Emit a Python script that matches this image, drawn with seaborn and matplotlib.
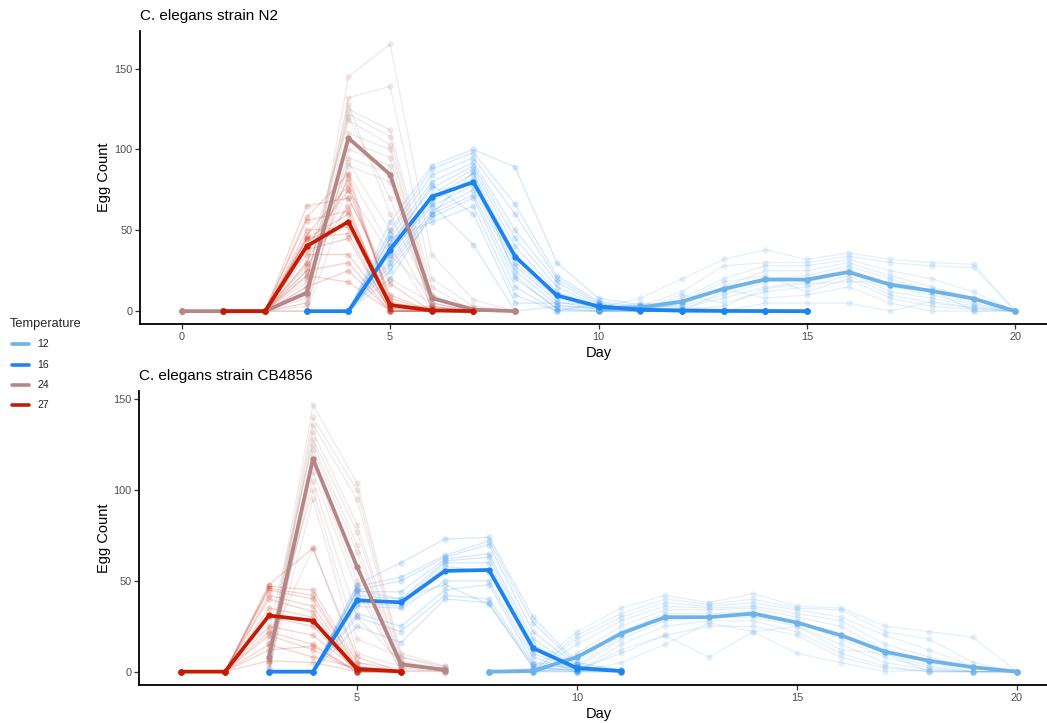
import matplotlib
matplotlib.use("Agg")
import matplotlib.pyplot as plt
import numpy as np
import pandas as pd
import seaborn as sns
from matplotlib.lines import Line2D

sns.set_theme(style="ticks")
plt.rcParams['font.family'] = ['Liberation Sans', 'DejaVu Sans']

temps = ["12", "16", "24", "27"]
colors = {"12": "#6DB2E8", "16": "#1C84F0", "24": "#B68686", "27": "#C41B05"}

# ---------------- N2 (top panel) ----------------
# each list entry = egg counts of the individual worms on that day
n2_27_days = [1, 2, 3, 4, 5, 6, 7]
n2_27_counts = [
    [0, 0, 0, 0, 0, 0, 0, 0, 0, 0, 0, 0, 0, 0, 0, 0],
    [0, 0, 0, 0, 0, 0, 0, 0, 0, 0, 0, 0, 0, 0, 0, 0],
    [65, 58, 56, 47, 45, 44, 40, 38, 35, 30, 28, 25, 22, 45, 50, 15],
    [70, 85, 62, 78, 48, 55, 75, 45, 35, 82, 65, 30, 18, 60, 52, 25],
    [17, 5, 2, 8, 0, 3, 10, 0, 2, 4, 1, 0, 0, 6, 3, 0],
    [0, 0, 1, 0, 0, 2, 0, 0, 0, 1, 0, 0, 0, 0, 3, 0],
    [0, 0, 0, 0, 0, 0, 0, 0, 0, 0, 0, 0, 0, 0, 0, 0],
]
n2_24_days = [0, 1, 2, 3, 4, 5, 6, 7, 8]
n2_24_counts = [
    [0, 0, 0, 0, 0, 0, 0, 0, 0, 0, 0, 0, 0, 0, 0, 0],
    [0, 0, 0, 0, 0, 0, 0, 0, 0, 0, 0, 0, 0, 0, 0, 0],
    [0, 0, 0, 0, 0, 0, 0, 0, 0, 0, 0, 0, 0, 0, 0, 0],
    [0, 5, 10, 20, 30, 15, 8, 0, 12, 25, 5, 18, 3, 10, 22, 0],
    [145, 132, 125, 122, 118, 110, 105, 100, 95, 90, 120, 128, 92, 85, 75, 70],
    [165, 139, 112, 108, 103, 100, 95, 90, 85, 80, 70, 60, 50, 40, 35, 20],
    [35, 20, 15, 10, 8, 5, 3, 2, 0, 0, 5, 8, 3, 0, 10, 5],
    [7, 3, 0, 0, 2, 0, 0, 1, 0, 0, 0, 2, 0, 0, 0, 0],
    [0, 0, 0, 0, 0, 0, 0, 0, 0, 0, 0, 0, 0, 0, 0, 0],
]
n2_16_days = [3, 4, 5, 6, 7, 8, 9, 10, 11, 12, 13, 14, 15]
n2_16_counts = [
    [0, 0, 0, 0, 0, 0, 0, 0, 0, 0, 0, 0, 0, 0, 0, 0],
    [0, 0, 0, 0, 0, 0, 0, 0, 0, 0, 0, 0, 0, 0, 0, 0],
    [55, 50, 48, 45, 42, 40, 38, 35, 32, 30, 28, 25, 45, 40, 36, 20],
    [90, 88, 84, 80, 76, 72, 70, 68, 65, 62, 60, 58, 55, 78, 66, 60],
    [100, 98, 95, 92, 90, 88, 85, 82, 78, 75, 72, 70, 65, 60, 41, 86],
    [89, 66, 60, 50, 45, 40, 35, 30, 28, 25, 20, 15, 10, 5, 0, 22],
    [30, 22, 20, 18, 15, 12, 10, 8, 6, 4, 2, 0, 0, 5, 3, 1],
    [8, 6, 5, 4, 3, 3, 2, 2, 1, 1, 0, 0, 5, 4, 2, 0],
    [4, 3, 2, 1, 1, 0, 0, 0, 1, 0, 2, 0, 0, 1, 0, 0],
    [2, 1, 0, 0, 1, 0, 0, 0, 0, 0, 1, 0, 0, 0, 0, 0],
    [1, 0, 0, 0, 0, 0, 0, 0, 1, 0, 0, 0, 0, 0, 0, 0],
    [0, 0, 0, 0, 0, 0, 1, 0, 0, 0, 0, 0, 0, 0, 0, 0],
    [0, 0, 0, 0, 0, 0, 0, 0, 0, 0, 0, 0, 0, 0, 0, 0],
]
n2_12_days = [10, 11, 12, 13, 14, 15, 16, 17, 18, 19, 20]
n2_12_counts = [
    [2, 1, 0, 3, 2, 1, 0, 4, 2, 1, 3, 0],
    [8, 3, 1, 0, 2, 5, 0, 1, 4, 2, 0, 1],
    [20, 12, 8, 5, 0, 3, 2, 10, 6, 4, 0, 1],
    [32, 28, 20, 15, 12, 10, 8, 5, 18, 14, 0, 3],
    [38, 30, 28, 25, 20, 18, 15, 12, 22, 8, 5, 14],
    [32, 30, 28, 25, 22, 20, 18, 15, 12, 10, 5, 17],
    [36, 34, 32, 30, 28, 26, 24, 22, 20, 15, 5, 18],
    [32, 30, 25, 22, 20, 15, 12, 10, 8, 5, 0, 18],
    [30, 28, 20, 15, 12, 10, 8, 5, 3, 0, 6, 13],
    [29, 27, 12, 8, 5, 4, 3, 2, 1, 0, 2, 0],
    [0, 0, 0, 0, 0, 0, 0, 0, 0, 0, 0, 0],
]

# ---------------- CB4856 (bottom panel) ----------------
cb_27_days = [1, 2, 3, 4, 5, 6]
cb_27_counts = [
    [0, 0, 0, 0, 0, 0, 0, 0, 0, 0, 0, 0, 0, 0],
    [0, 0, 0, 0, 0, 0, 0, 0, 0, 0, 0, 0, 0, 0],
    [48, 47, 46, 45, 42, 40, 35, 30, 25, 22, 20, 15, 12, 6],
    [68, 45, 42, 40, 36, 33, 30, 25, 20, 15, 12, 8, 14, 5],
    [8, 5, 3, 2, 1, 0, 0, 0, 1, 0, 0, 2, 0, 0],
    [0, 0, 0, 0, 0, 0, 1, 0, 0, 0, 0, 0, 0, 0],
]
cb_24_days = [3, 4, 5, 6, 7]
cb_24_counts = [
    [10, 8, 6, 5, 14, 23, 2, 0, 0, 5, 7, 18, 2, 15],
    [147, 140, 136, 132, 128, 125, 122, 118, 115, 110, 105, 100, 95, 68],
    [104, 100, 95, 81, 77, 70, 66, 58, 50, 45, 30, 18, 10, 5],
    [10, 8, 6, 5, 4, 3, 2, 1, 0, 0, 5, 8, 3, 2],
    [3, 2, 1, 0, 0, 1, 2, 0, 0, 1, 0, 3, 1, 0],
]
cb_16_days = [3, 4, 5, 6, 7, 8, 9, 10, 11]
cb_16_counts = [
    [0, 0, 0, 0, 0, 0, 0, 0, 0, 0, 0, 0],
    [0, 0, 0, 0, 0, 0, 0, 0, 0, 0, 0, 0],
    [48, 47, 45, 44, 42, 40, 38, 36, 32, 30, 25, 45],
    [60, 52, 50, 44, 40, 38, 36, 35, 25, 22, 16, 40],
    [73, 64, 63, 62, 61, 60, 58, 50, 45, 42, 40, 48],
    [74, 72, 70, 65, 63, 60, 55, 50, 48, 40, 38, 37],
    [30, 27, 22, 18, 15, 12, 10, 8, 5, 4, 2, 3],
    [5, 4, 3, 2, 2, 1, 1, 0, 3, 2, 1, 0],
    [1, 0, 1, 0, 0, 0, 1, 0, 0, 0, 1, 0],
]
cb_12_days = [8, 9, 10, 11, 12, 13, 14, 15, 16, 17, 18, 19, 20]
cb_12_counts = [
    [0, 0, 0, 0, 0, 0, 0, 0, 0, 0, 0, 0],
    [2, 0, 1, 0, 0, 0, 0, 0, 1, 0, 0, 0],
    [22, 20, 18, 15, 10, 5, 3, 2, 0, 0, 1, 0],
    [35, 32, 30, 28, 25, 22, 20, 18, 15, 12, 10, 5],
    [42, 40, 38, 36, 34, 32, 30, 28, 25, 20, 20, 15],
    [38, 37, 36, 35, 34, 32, 30, 30, 28, 25, 8, 27],
    [43, 40, 38, 36, 35, 33, 32, 30, 28, 25, 22, 22],
    [36, 35, 34, 32, 30, 28, 27, 25, 22, 20, 10, 25],
    [35, 34, 30, 28, 25, 20, 18, 15, 10, 8, 5, 12],
    [25, 22, 20, 15, 12, 10, 8, 5, 3, 2, 0, 10],
    [22, 18, 12, 8, 5, 3, 2, 1, 0, 0, 1, 0],
    [19, 5, 3, 2, 0, 0, 0, 0, 0, 0, 0, 0],
    [0, 0, 0, 0, 0, 0, 0, 0, 0, 0, 0, 0],
]


def to_long(temp, days, counts):
    rows = []
    for d, vals in zip(days, counts):
        for w, v in enumerate(vals):
            rows.append({"temp": temp, "day": d, "worm": f"{temp}_{w}", "count": v})
    return rows


n2_df = pd.DataFrame(
    to_long("12", n2_12_days, n2_12_counts) + to_long("16", n2_16_days, n2_16_counts)
    + to_long("24", n2_24_days, n2_24_counts) + to_long("27", n2_27_days, n2_27_counts))
cb_df = pd.DataFrame(
    to_long("12", cb_12_days, cb_12_counts) + to_long("16", cb_16_days, cb_16_counts)
    + to_long("24", cb_24_days, cb_24_counts) + to_long("27", cb_27_days, cb_27_counts))

W, H = 1047, 723
fig = plt.figure(figsize=(W / 100, H / 100), dpi=100)
fig.patch.set_facecolor("white")

# axes rectangles (pixel based)
ax1 = fig.add_axes([140 / W, 1 - 324.5 / H, 917 / W, 293.5 / H])
ax2 = fig.add_axes([139.2 / W, 1 - 685 / H, 919.6 / W, 293.6 / H])


def draw(ax, df):
    for t in temps:
        sub = df[df.temp == t]
        sns.lineplot(data=sub, x="day", y="count", units="worm", estimator=None,
                     color=colors[t], alpha=0.19, lw=0.9, marker="o", markersize=4.5,
                     markeredgewidth=0, ax=ax, legend=False)
    for t in temps:
        sub = df[df.temp == t]
        sns.lineplot(data=sub, x="day", y="count", estimator="mean", errorbar=None,
                     color=colors[t], lw=2.7, marker="o", markersize=4.5,
                     markeredgewidth=0, ax=ax, legend=False)


draw(ax1, n2_df)
draw(ax2, cb_df)

ax1.set_xlim(-1, 21)
ax1.set_ylim(-8.25, 173.25)
ax1.set_xticks([0, 5, 10, 15, 20])
ax2.set_xlim(0.05, 20.95)
ax2.set_ylim(-7.35, 154.35)
ax2.set_xticks([5, 10, 15, 20])

for ax, title in [(ax1, "C. elegans strain N2"), (ax2, "C. elegans strain CB4856")]:
    ax.set_yticks([0, 50, 100, 150])
    for s in ["top", "right"]:
        ax.spines[s].set_visible(False)
    for s in ["left", "bottom"]:
        ax.spines[s].set_linewidth(1.3)
        ax.spines[s].set_color("black")
    ax.tick_params(axis="both", length=3.5, width=0.9, color="#333333",
                   labelsize=7.8, labelcolor="#4D4D4D", pad=2)
    ax.set_xlabel("Day", fontsize=10.5, color="black", labelpad=3)
    ax.set_ylabel("Egg Count", fontsize=10.5, color="black", labelpad=2)
    ax.set_title(title, loc="left", fontsize=11, color="black", pad=8)
    ax.set_facecolor("white")
    ax.grid(False)

# legend (left side)
fig.text(10 / W, 1 - 323.5 / H, "Temperature", fontsize=9.2, ha="left", va="center")
for i, t in enumerate(temps):
    yy = 1 - (344.3 + 20.3 * i) / H
    fig.add_artist(Line2D([12 / W, 28.5 / W], [yy, yy], color=colors[t], lw=2.6,
                          transform=fig.transFigure))
    fig.text(37 / W, yy, t, fontsize=7.5, ha="left", va="center", color="#222222")

fig.savefig("out.png", dpi=100, facecolor="white")
